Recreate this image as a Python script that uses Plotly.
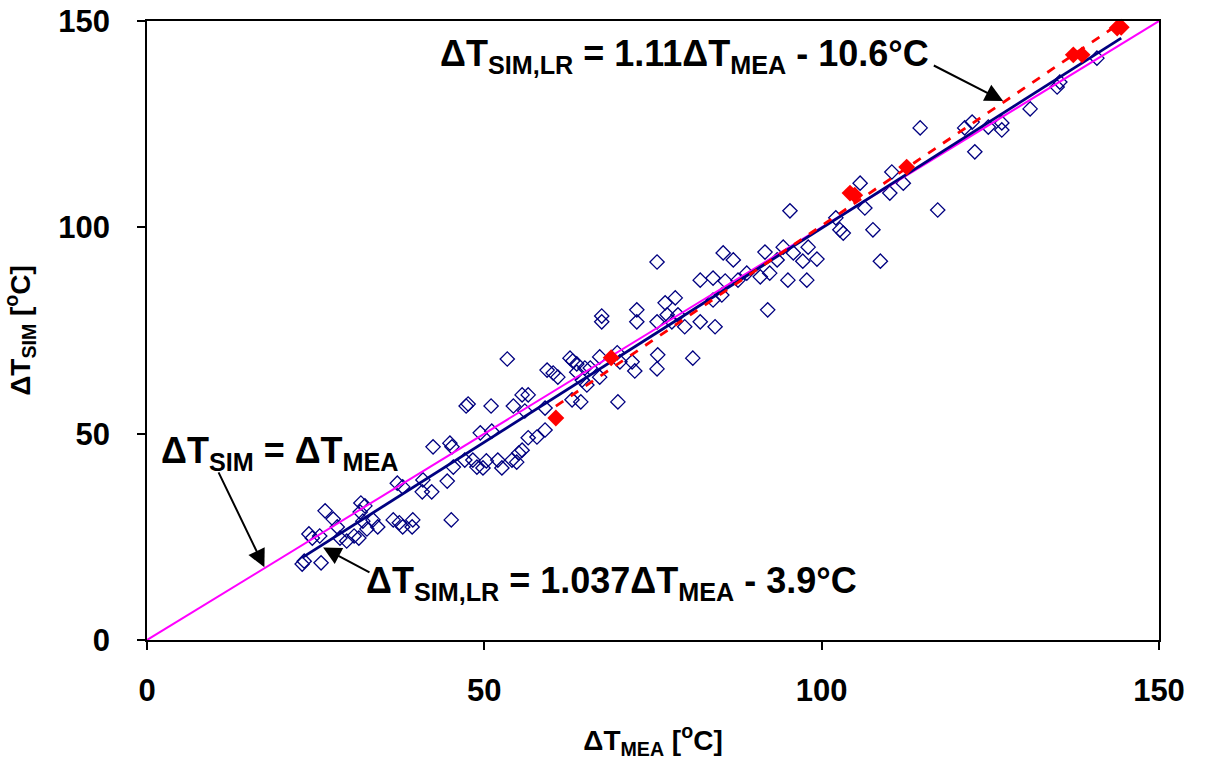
import plotly.graph_objects as go

# Measured vs. simulated temperature rise, all test points
mea = [23.0, 23.3, 25.8, 26.4, 27.6, 28.2, 24.0, 24.5, 25.6, 28.6, 29.6, 31.7, 32.3, 31.6, 32.0,
       33.5, 34.2, 32.6, 31.4, 30.7, 36.5, 37.4, 37.9, 39.4, 39.3, 45.1, 37.1, 37.9, 40.8, 42.2,
       44.5, 40.9, 45.4, 47.1, 48.9, 42.4, 44.9, 45.2, 49.4, 51.1, 47.3, 47.6, 51.0, 54.3, 55.6,
       56.5, 56.0, 59.0, 53.4, 48.3, 50.3, 49.8, 52.0, 52.6, 54.1, 54.8, 56.5, 57.8, 59.0, 55.6,
       55.1, 63.0, 64.3, 65.2, 59.3, 60.2, 60.9, 62.7, 63.1, 63.7, 64.9, 65.7, 67.1, 63.7, 64.5,
       67.1, 69.7, 70.1, 71.9, 72.3, 75.7, 75.6, 80.9, 69.8, 67.4, 67.4, 72.6, 72.6, 76.8, 78.3,
       77.1, 75.6, 77.8, 79.7, 78.7, 82.0, 84.2, 75.6, 82.0, 83.9, 85.7, 85.4, 86.9, 85.2, 83.9,
       88.9, 90.9, 91.6, 92.0, 92.3, 93.4, 94.3, 95.8, 98.0, 99.3, 97.2, 95.0, 97.8, 95.3, 102.1,
       102.7, 103.2, 105.7, 110.4, 112.1, 110.1, 106.4, 107.6, 108.7, 117.2, 114.6, 122.7, 122.3,
       121.2, 124.7, 126.7, 126.7, 130.9, 134.9, 135.3, 140.8, 87.6]
sim = [18.4, 19.1, 18.7, 31.3, 29.3, 27.4, 25.7, 24.7, 25.2, 24.7, 24.0, 33.2, 32.5, 31.0, 28.8,
       29.1, 27.4, 26.9, 24.7, 25.2, 29.1, 28.4, 27.4, 29.1, 27.4, 29.1, 38.0, 37.1, 35.9, 35.9,
       38.5, 38.8, 41.9, 43.6, 41.9, 46.8, 47.7, 46.8, 50.2, 50.6, 56.7, 57.2, 56.7, 56.7, 59.4,
       59.4, 55.5, 56.2, 68.1, 43.6, 43.4, 41.7, 43.6, 41.7, 43.6, 43.1, 49.0, 49.2, 50.9, 46.0,
       45.3, 58.2, 57.7, 61.8, 65.4, 64.7, 63.7, 68.3, 67.6, 66.9, 65.9, 65.9, 68.6, 64.9, 63.0,
       63.7, 69.6, 67.4, 67.4, 65.2, 69.1, 65.7, 68.3, 57.7, 78.5, 77.1, 80.0, 77.1, 81.7, 82.9,
       78.8, 77.1, 77.1, 75.9, 78.8, 77.1, 75.9, 91.6, 87.2, 87.7, 87.0, 93.8, 92.1, 83.6, 82.4,
       88.9, 88.0, 94.0, 80.0, 88.9, 92.1, 95.2, 93.8, 95.2, 92.3, 91.8, 87.2, 87.2, 104.0, 102.3,
       99.4, 98.6, 110.7, 113.4, 110.7, 108.3, 104.7, 99.4, 91.8, 104.2, 124.1, 118.3, 125.5,
       124.1, 124.3, 125.3, 123.6, 128.7, 134.0, 135.2, 141.0, 87.2]

# Subset of points with their own regression
red_mea = [60.6, 68.8, 104.2, 104.9, 112.6, 137.3, 138.6, 143.8, 144.4]
red_sim = [53.8, 68.4, 108.3, 107.8, 114.6, 141.8, 141.8, 148.3, 148.5]

# Regression coefficients (slope, intercept)
fit_all = (1.037, -3.9)
fit_red = (1.11, -10.6)

axis_ticks = [0, 50, 100, 150]

all_x = mea + red_mea
x_all = [min(all_x), max(all_x)]
y_all = [fit_all[0] * v + fit_all[1] for v in x_all]
x_red = [min(red_mea), max(red_mea)]
y_red = [fit_red[0] * v + fit_red[1] for v in x_red]

FONT = "Liberation Sans, Arial"

fig = go.Figure()
fig.add_trace(go.Scatter(x=mea, y=sim, mode="markers",
                         marker=dict(symbol="diamond-open", size=11, color="#000080",
                                     line=dict(width=1.3, color="#000080")),
                         showlegend=False))
fig.add_trace(go.Scatter(x=[0, 150], y=[0, 150], mode="lines",
                         line=dict(color="#FF00FF", width=2), showlegend=False))
fig.add_trace(go.Scatter(x=x_all, y=y_all, mode="lines",
                         line=dict(color="#000080", width=2.8), showlegend=False))
fig.add_trace(go.Scatter(x=x_red, y=y_red, mode="lines",
                         line=dict(color="#FF0000", width=2.8, dash="dash"), showlegend=False))
fig.add_trace(go.Scatter(x=red_mea, y=red_sim, mode="markers",
                         marker=dict(symbol="diamond", size=13, color="#FF0000"),
                         showlegend=False, cliponaxis=False))

ann_font = dict(family=FONT, size=36, color="black", weight="bold")

# Arrows
for (hx, hy, tx, ty) in [(17.4, 17.6, 10.5, 41.0), (26.1, 22.4, 33.2, 16.2), (126.9, 130.6, 116.4, 139.4)]:
    fig.add_annotation(x=hx, y=hy, ax=tx, ay=ty, xref="x", yref="y", axref="x", ayref="y",
                       text="", showarrow=True, arrowhead=2, arrowsize=1.8, arrowwidth=2,
                       arrowcolor="black")

fig.add_annotation(x=1.8, y=45.2, xref="x", yref="y", xanchor="left", yanchor="middle",
                   text="ΔT<sub>SIM</sub> = ΔT<sub>MEA</sub>", showarrow=False, font=ann_font)
fig.add_annotation(x=32.2, y=13.8, xref="x", yref="y", xanchor="left", yanchor="middle",
                   text="ΔT<sub>SIM,LR</sub> = 1.037ΔT<sub>MEA</sub> - 3.9°C", showarrow=False,
                   font=ann_font)
fig.add_annotation(x=43.2, y=141.4, xref="x", yref="y", xanchor="left", yanchor="middle",
                   text="ΔT<sub>SIM,LR</sub> = 1.11ΔT<sub>MEA</sub> - 10.6°C", showarrow=False,
                   font=ann_font)

axis_common = dict(range=[0, 150], tickvals=axis_ticks, ticks="outside", ticklen=8,
                   tickwidth=1.5, tickcolor="black", showline=True, linecolor="black",
                   linewidth=1.5, mirror=True, showgrid=False, zeroline=False,
                   automargin=False,
                   tickfont=dict(family=FONT, size=31, color="black", weight="bold"))

fig.update_xaxes(**axis_common, ticklabelstandoff=14,
                 title=dict(text="ΔT<sub>MEA</sub> [<sup>o</sup>C]", standoff=24,
                            font=dict(family=FONT, size=28, color="black", weight="bold")))
fig.update_yaxes(**axis_common, ticklabelstandoff=21,
                 title=dict(text="ΔT<sub>SIM</sub> [<sup>o</sup>C]", standoff=22,
                            font=dict(family=FONT, size=28, color="black", weight="bold")))

fig.update_layout(width=1207, height=760, margin=dict(l=147, r=48, t=21, b=120),
                  plot_bgcolor="white", paper_bgcolor="white",
                  font=dict(family=FONT, color="black"))

fig.write_html("out.html")
